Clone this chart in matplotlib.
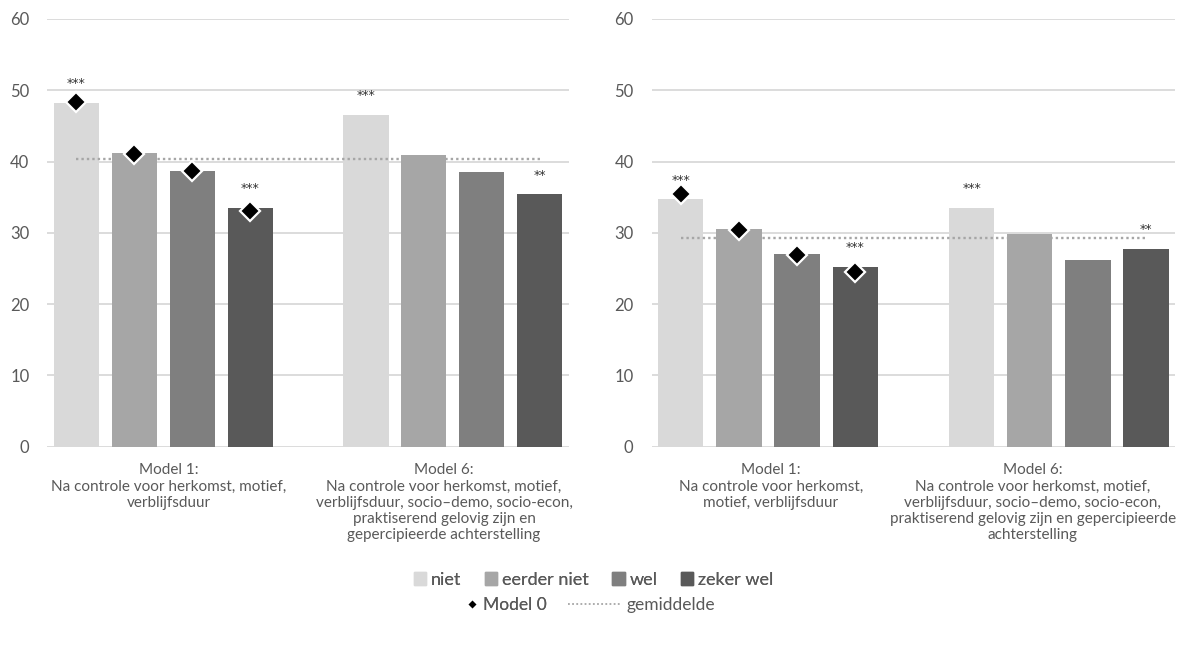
"""
Two panels of grouped bars (niet / eerder niet / wel / zeker wel) for
Model 1 and Model 6, with Model 0 diamonds and a dotted average line.
"""
import matplotlib
matplotlib.use("Agg")
import matplotlib.pyplot as plt
from matplotlib.lines import Line2D
from matplotlib.patches import Patch

plt.rcParams["font.family"] = ["Lato", "DejaVu Sans"]

SERIES = ["niet", "eerder niet", "wel", "zeker wel"]
COLORS = ["#d9d9d9", "#a6a6a6", "#7f7f7f", "#595959"]

LABELS_LEFT = [
    "Model 1:\nNa controle voor herkomst, motief,\nverblijfsduur",
    "Model 6:\nNa controle voor herkomst, motief,\nverblijfsduur, socio\u2013demo, socio-econ,\n"
    "praktiserend gelovig zijn en\ngepercipieerde achterstelling",
]
LABELS_RIGHT = [
    "Model 1:\nNa controle voor herkomst,\nmotief, verblijfsduur",
    "Model 6:\nNa controle voor herkomst, motief,\nverblijfsduur, socio\u2013demo, socio-econ,\n"
    "praktiserend gelovig zijn en gepercipieerde\nachterstelling",
]

# bar values per model (niet, eerder niet, wel, zeker wel)
LEFT_M1 = [48.2, 41.2, 38.7, 33.5]
LEFT_M6 = [46.5, 40.9, 38.5, 35.4]
LEFT_M0 = [48.3, 41.1, 38.6, 33.1]
LEFT_MEAN = 40.3
LEFT_STARS_M1 = ["***", "", "", "***"]
LEFT_STARS_M6 = ["***", "", "", "**"]

RIGHT_M1 = [34.7, 30.5, 27.0, 25.2]
RIGHT_M6 = [33.5, 29.8, 26.2, 27.7]
RIGHT_M0 = [35.5, 30.4, 26.9, 24.5]
RIGHT_MEAN = 29.3
RIGHT_STARS_M1 = ["***", "", "", "***"]
RIGHT_STARS_M6 = ["***", "", "", "**"]

TEXT = "#595959"
GRID = "#d9d9d9"


def draw(ax, m1, m6, m0, mean, stars1, stars6, labels, label_x):
    pos1 = [0, 1, 2, 3]
    pos6 = [5, 6, 7, 8]
    ax.bar(pos1, m1, 0.78, color=COLORS, zorder=2)
    ax.bar(pos6, m6, 0.78, color=COLORS, zorder=2)
    ax.plot([0, 8], [mean, mean], ls=(0, (1, 1.3)), lw=1.7, color="#a6a6a6", zorder=3)
    ax.plot(pos1, m0, ls="none", marker="D", ms=10, mfc="black", mec="white",
            mew=1.6, zorder=4)
    for p, v, s in zip(pos1 + pos6, m1 + m6, stars1 + stars6):
        if s:
            ax.text(p, v + 2.7, s, ha="center", va="center", fontsize=9,
                    color="#333333", family="DejaVu Sans")

    ax.set_xlim(-0.5, 8.5)
    ax.set_ylim(0, 60)
    ax.set_yticks(range(0, 61, 10))
    ax.yaxis.grid(True, color=GRID, lw=1.3, zorder=0)
    ax.set_axisbelow(True)
    for sp in ax.spines.values():
        sp.set_visible(False)
    ax.tick_params(axis="y", length=0, labelsize=12, labelcolor=TEXT, pad=13)
    ax.set_xticks([])
    for x, lab in zip(label_x, labels):
        ax.annotate(lab, xy=(x, 0), xycoords=("data", "axes fraction"),
                    xytext=(0, -12), textcoords="offset points", ha="center",
                    va="top", fontsize=11, color=TEXT, linespacing=1.2)


fig = plt.figure(figsize=(11.87, 6.53), dpi=100)
ax1 = fig.add_axes([0.040, 0.316, 0.439, 0.655])
ax2 = fig.add_axes([0.549, 0.316, 0.441, 0.655])

draw(ax1, LEFT_M1, LEFT_M6, LEFT_M0, LEFT_MEAN, LEFT_STARS_M1, LEFT_STARS_M6,
     LABELS_LEFT, [1.6, 6.35])
draw(ax2, RIGHT_M1, RIGHT_M6, RIGHT_M0, RIGHT_MEAN, RIGHT_STARS_M1, RIGHT_STARS_M6,
     LABELS_RIGHT, [1.55, 6.05])

h1 = [Patch(color=c, label=s) for c, s in zip(COLORS, SERIES)]
leg1 = fig.legend(handles=h1, loc="center", bbox_to_anchor=(0.5, 0.112), ncol=4,
                  frameon=False, fontsize=13, handlelength=0.7, handleheight=0.7,
                  handletextpad=0.25, columnspacing=1.3, labelcolor=TEXT)
fig.add_artist(leg1)

# second legend row: diamond sits right next to its text, dotted line is longer
hm = [Line2D([], [], ls="none", marker="D", ms=5.5, mfc="black", mec="white",
             label="Model 0")]
leg2 = fig.legend(handles=hm, loc="center right", bbox_to_anchor=(0.474, 0.073),
                  frameon=False, fontsize=12.5, handlelength=0.6, handletextpad=0.35,
                  labelcolor=TEXT)
fig.add_artist(leg2)
hg = [Line2D([], [], ls=(0, (1, 1.3)), lw=1.3, color="#a6a6a6", label="gemiddelde")]
fig.legend(handles=hg, loc="center left", bbox_to_anchor=(0.465, 0.073),
           frameon=False, fontsize=12.5, handlelength=3.0, handletextpad=0.4,
           labelcolor=TEXT)

fig.savefig("out.png", dpi=100)
